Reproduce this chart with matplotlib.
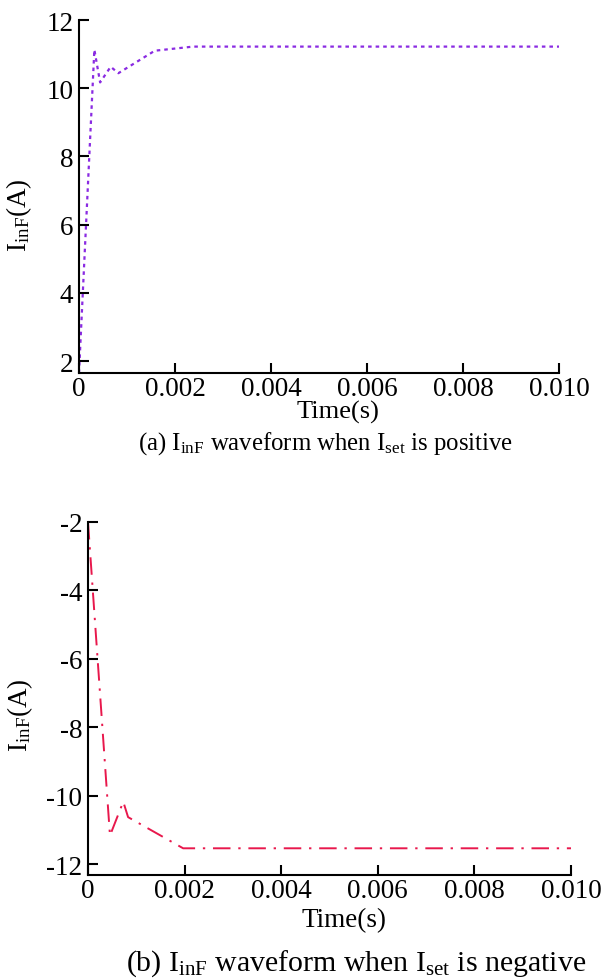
import matplotlib
matplotlib.use("Agg")
from matplotlib import pyplot as plt

plt.rcParams['font.family'] = ['Liberation Serif', 'DejaVu Serif']
plt.rcParams['mathtext.fontset'] = 'custom'
plt.rcParams['mathtext.rm'] = 'Liberation Serif'
plt.rcParams['mathtext.it'] = 'Liberation Serif:italic'

# (a) Iset positive
t_pos = [0, 0.00032, 0.00044, 0.00066, 0.00082, 0.00158, 0.00238, 0.010]
i_pos = [1.65, 11.13, 10.17, 10.63, 10.44, 11.10, 11.22, 11.22]

# (b) Iset negative
t_neg = [0, 0.000455, 0.00073, 0.00083, 0.00197, 0.010]
i_neg = [-2.0, -11.16, -10.17, -10.62, -11.53, -11.53]

x_ticks = [0, 0.002, 0.004, 0.006, 0.008, 0.010]
x_labels = ['0', '0.002', '0.004', '0.006', '0.008', '0.010']
y_ticks_pos = [2, 4, 6, 8, 10, 12]
y_ticks_neg = [-2, -4, -6, -8, -10, -12]

W, H = 605, 979
fig = plt.figure(figsize=(W / 100, H / 100), dpi=100)


def box(l, t, r, b):
    return [l / W, 1 - b / H, (r - l) / W, (b - t) / H]


ax1 = fig.add_axes(box(79, 21, 559, 374))
ax2 = fig.add_axes(box(88, 523, 571, 876))

ax1.plot(t_pos, i_pos, color='#8a2be2', linewidth=1.6, dashes=(1.6, 1.8))
ax2.plot(t_neg, i_neg, color='#e8184c', linewidth=1.4, dashes=(9, 4, 1.2, 4))

ax1.set_ylim(1.65, 12)
ax2.set_ylim(-12.31, -2)

for ax, yt in ((ax1, y_ticks_pos), (ax2, y_ticks_neg)):
    ax.set_xlim(0, 0.010)
    ax.set_xticks(x_ticks)
    ax.set_xticklabels(x_labels)
    ax.set_yticks(yt)
    ax.set_yticklabels([str(v) for v in yt])
    ax.spines['top'].set_visible(False)
    ax.spines['right'].set_visible(False)
    for s in ('left', 'bottom'):
        ax.spines[s].set_linewidth(1.5)
    ax.tick_params(direction='in', length=7, width=1.5, labelsize=19.5, pad=4)
    ax.tick_params(axis='x', pad=2)
    ax.set_ylabel(r'I$_{\rm inF}$(A)', fontsize=19.5)

ax1.yaxis.set_label_coords(-0.094, 0.45)
ax2.yaxis.set_label_coords(-0.11, 0.455)

fig.text(338 / W, 1 - 412 / H, 'Time(s)', fontsize=19, ha='center', va='center')
fig.text(326 / W, 1 - 444 / H, r'(a) I$_{\rm inF}$ waveform when I$_{\rm set}$ is positive',
         fontsize=17.8, ha='center', va='center')
fig.text(344 / W, 1 - 921 / H, 'Time(s)', fontsize=19.5, ha='center', va='center')
fig.text(356 / W, 1 - 964 / H, r'(b) I$_{\rm inF}$ waveform when I$_{\rm set}$ is negative',
         fontsize=21.5, ha='center', va='center')

fig.savefig('out.png', dpi=100)
